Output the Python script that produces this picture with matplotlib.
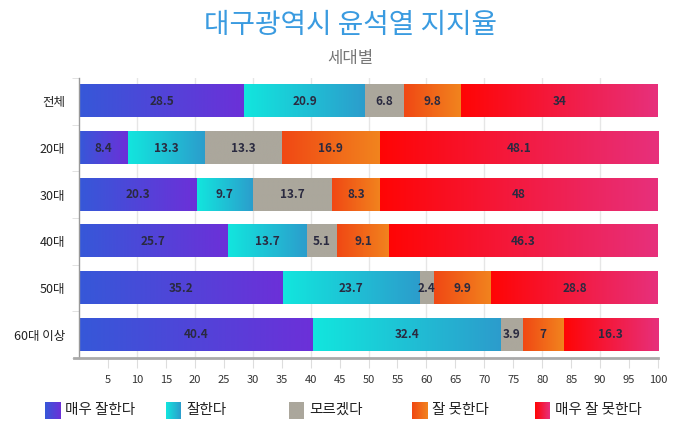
import numpy as np
import matplotlib
matplotlib.use("Agg")
import matplotlib.pyplot as plt
from matplotlib.colors import to_rgb

plt.rcParams['font.family'] = ['Noto Sans CJK KR', 'DejaVu Sans']

# Data
categories = ["전체", "20대", "30대", "40대", "50대", "60대 이상"]
series_names = ["매우 잘한다", "잘한다", "모르겠다", "잘 못한다", "매우 잘 못한다"]
very_good = [28.5, 8.4, 20.3, 25.7, 35.2, 40.4]
good = [20.9, 13.3, 9.7, 13.7, 23.7, 32.4]
unknown = [6.8, 13.3, 13.7, 5.1, 2.4, 3.9]
bad = [9.8, 16.9, 8.3, 9.1, 9.9, 7]
very_bad = [34, 48.1, 48, 46.3, 28.8, 16.3]
x_ticks = list(range(5, 101, 5))

series_values = [very_good, good, unknown, bad, very_bad]
# gradient start/end colours for each series
gradients = [
    ("#3658d8", "#6c30d8"),
    ("#12e6de", "#2c9ccc"),
    ("#aba79c", "#aba79c"),
    ("#f04814", "#f2841e"),
    ("#ff0505", "#e7307c"),
]


def grad_image(c1, c2, n=256):
    a = np.array(to_rgb(c1))
    b = np.array(to_rgb(c2))
    t = np.linspace(0, 1, n)[:, None]
    return (a + (b - a) * t)[None, :, :]


fig = plt.figure(figsize=(7, 4.22), dpi=100)
ax = fig.add_axes([79 / 700, 1 - 358 / 422, 579 / 700, 280 / 422])

bar_h = 0.69
for i, cat in enumerate(categories):
    left = 0
    for s, vals in enumerate(series_values):
        v = vals[i]
        c1, c2 = gradients[s]
        ax.imshow(grad_image(c1, c2), extent=[left, left + v, i + bar_h / 2, i - bar_h / 2],
                  aspect='auto', interpolation='bilinear', zorder=2)
        ax.text(left + v / 2, i, f"{v:g}", ha='center', va='center',
                fontsize=8.5, fontweight='bold', color='#2a2a40', zorder=3)
        left += v

ax.set_xlim(0, 100)
ax.set_ylim(len(categories) - 0.5, -0.5)

for x in range(10, 100, 10):
    ax.axvline(x, color='#e6e6e6', lw=1, zorder=0)

ax.set_xticks(x_ticks)
ax.set_xticklabels([str(t) for t in x_ticks], fontsize=8, color='#333333')
ax.tick_params(axis='x', length=7, color='#dddddd', pad=5)
ax.set_yticks(range(len(categories)))
ax.set_yticklabels(categories, fontsize=9, color='#222222')
ax.set_yticks(np.arange(-0.5, len(categories), 1), minor=True)
ax.tick_params(axis='y', which='major', length=0, pad=10)
ax.tick_params(axis='y', which='minor', length=5, color='#dddddd')

for side in ['top', 'right']:
    ax.spines[side].set_visible(False)
ax.spines['left'].set_color('#999999')
ax.spines['left'].set_linewidth(1)
ax.spines['bottom'].set_visible(False)
fig.add_artist(plt.Line2D([74 / 700, 658 / 700], [1 - 358 / 422] * 2,
                          color='#aaaaaa', lw=2))

fig.text(0.5, 1 - 25 / 422, "대구광역시 윤석열 지지율", ha='center', va='center',
         fontsize=20, color='#3a9be0')
fig.text(0.5, 1 - 58 / 422, "세대별", ha='center', va='center',
         fontsize=12, color='#777777')

# Legend
leg_x = [45, 166, 289, 412, 535]
for s, name in enumerate(series_names):
    lax = fig.add_axes([leg_x[s] / 700, 1 - 419 / 422, 15 / 700, 17 / 422])
    c1, c2 = gradients[s]
    lax.imshow(grad_image(c1, c2), extent=[0, 1, 0, 1], aspect='auto')
    lax.set_axis_off()
    fig.text((leg_x[s] + 20) / 700, 1 - 410 / 422, name, ha='left', va='center',
             fontsize=10.5, color='#222222')

fig.savefig("out.png", dpi=100)
